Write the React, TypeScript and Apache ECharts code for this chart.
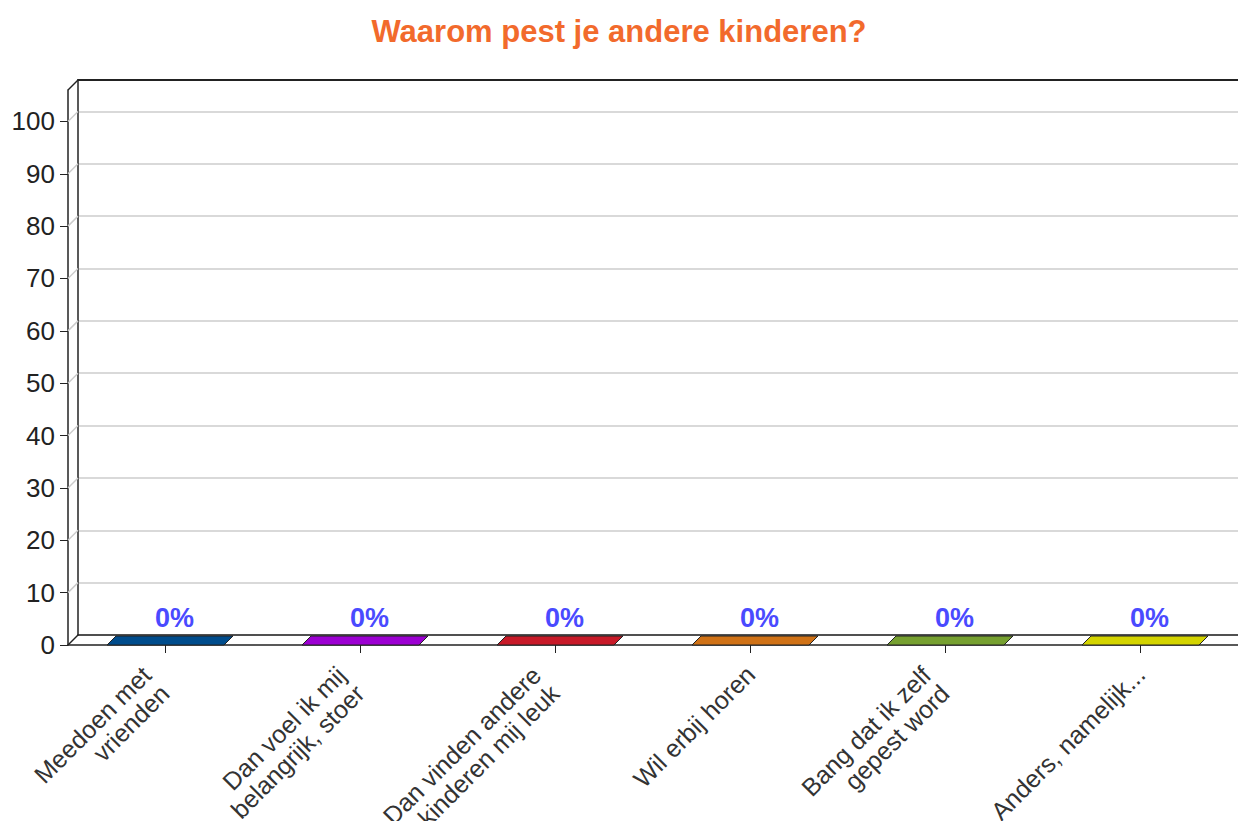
import React, { useEffect, useRef } from "react";
import * as echarts from "echarts";

const title = "Waarom pest je andere kinderen?";
const categories = [
  "Meedoen met\nvrienden",
  "Dan voel ik mij\nbelangrijk, stoer",
  "Dan vinden andere\nkinderen mij leuk",
  "Wil erbij horen",
  "Bang dat ik zelf\ngepest word",
  "Anders, namelijk...",
];
const values = [0, 0, 0, 0, 0, 0];
const barColors = ["#004c8c", "#9c00d2", "#c81a28", "#d07216", "#76a030", "#d4d400"];
const yTicks = [0, 10, 20, 30, 40, 50, 60, 70, 80, 90, 100];
const yMax = 106;

const DEPTH = 10;
const BAR_D = 9;
const FONT = "'Liberation Sans', Arial, sans-serif";

export default function App() {
  const ref = useRef<HTMLDivElement>(null);

  useEffect(() => {
    if (!ref.current) return;
    const chart = echarts.init(ref.current, undefined, { renderer: "svg" });

    const connectorData = yTicks.map((v) => [0, v]).concat([[0, yMax]]);
    const axisData = categories.map((c) =>
      c.indexOf("\n") >= 0 ? { value: c, textStyle: { padding: [0, 14, 0, 0] } } : c
    );

    chart.setOption({
      animation: false,
      backgroundColor: "#ffffff",
      title: {
        text: title,
        left: "center",
        top: 11,
        textStyle: { color: "#f26a2c", fontSize: 31, fontWeight: "bold", fontFamily: FONT },
      },
      grid: [
        { left: 68, right: 0, top: 90, bottom: 176, containLabel: false, outerBoundsMode: "none" },
        {
          left: 68 + DEPTH,
          right: -DEPTH,
          top: 90 - DEPTH,
          bottom: 176 + DEPTH,
          containLabel: false,
          outerBoundsMode: "none",
        },
      ],
      xAxis: [
        {
          type: "category",
          gridIndex: 0,
          data: axisData,
          boundaryGap: true,
          axisLine: { show: true, lineStyle: { color: "#222", width: 1.5 } },
          axisTick: { show: true, alignWithLabel: true, length: 8, lineStyle: { color: "#222" } },
          axisLabel: {
            interval: 0,
            rotate: 45,
            margin: 25,
            fontSize: 25,
            lineHeight: 26,
            color: "#333",
            fontFamily: FONT,
          },
          splitLine: { show: false },
        },
        {
          type: "category",
          gridIndex: 1,
          data: categories,
          position: "bottom",
          axisLine: { show: true, lineStyle: { color: "#222", width: 1.5 } },
          axisTick: { show: false },
          axisLabel: { show: false },
          splitLine: { show: false },
        },
        {
          type: "category",
          gridIndex: 1,
          data: categories,
          position: "top",
          axisLine: { show: true, lineStyle: { color: "#222", width: 2 } },
          axisTick: { show: false },
          axisLabel: { show: false },
          splitLine: { show: false },
        },
      ],
      yAxis: [
        {
          type: "value",
          gridIndex: 0,
          min: 0,
          max: yMax,
          interval: 10,
          axisLine: { show: true, lineStyle: { color: "#222", width: 1.5 } },
          axisTick: { show: true, length: 8, customValues: yTicks, lineStyle: { color: "#222" } },
          axisLabel: {
            customValues: yTicks,
            margin: 13,
            fontSize: 26,
            color: "#222",
            fontFamily: FONT,
          },
          splitLine: { show: false },
        },
        {
          type: "value",
          gridIndex: 1,
          min: 0,
          max: yMax,
          interval: 10,
          axisLine: { show: true, lineStyle: { color: "#222", width: 1.5 } },
          axisTick: { show: false },
          axisLabel: { show: false },
          splitLine: { show: true, lineStyle: { color: "#cccccc", width: 1.5 } },
        },
      ],
      series: [
        {
          type: "custom",
          name: "connectors",
          xAxisIndex: 0,
          yAxisIndex: 0,
          data: connectorData,
          silent: true,
          z: 1,
          renderItem: (params: any, api: any) => {
            const v = api.value(1);
            const p = api.coord([0, v]);
            const x = params.coordSys.x;
            const edge = v === 0 || v === yMax;
            return {
              type: "line",
              shape: { x1: x, y1: p[1], x2: x + DEPTH, y2: p[1] - DEPTH },
              style: { stroke: edge ? "#222" : "#cccccc", lineWidth: 1.5 },
            };
          },
        },
        {
          type: "custom",
          name: "bars",
          xAxisIndex: 0,
          yAxisIndex: 0,
          data: values.map((v, i) => [i, v]),
          z: 5,
          renderItem: (params: any, api: any) => {
            const idx = api.value(0);
            const v = api.value(1);
            const base = api.coord([idx, 0]);
            const top = api.coord([idx, v]);
            const w = api.size([1, 0])[0] * 0.6;
            const x0 = base[0] - w / 2;
            const color = barColors[idx % barColors.length];
            const children: any[] = [];
            if (top[1] < base[1]) {
              children.push({
                type: "rect",
                shape: { x: x0, y: top[1], width: w, height: base[1] - top[1] },
                style: { fill: color, stroke: "#222", lineWidth: 1 },
              });
              children.push({
                type: "polygon",
                shape: {
                  points: [
                    [x0 + w, top[1]],
                    [x0 + w + BAR_D, top[1] - BAR_D],
                    [x0 + w + BAR_D, base[1] - BAR_D],
                    [x0 + w, base[1]],
                  ],
                },
                style: { fill: color, stroke: "#222", lineWidth: 1 },
              });
            }
            children.push({
              type: "polygon",
              shape: {
                points: [
                  [x0, top[1]],
                  [x0 + w, top[1]],
                  [x0 + w + BAR_D, top[1] - BAR_D],
                  [x0 + BAR_D, top[1] - BAR_D],
                ],
              },
              style: { fill: color, stroke: "#222", lineWidth: 1 },
            });
            children.push({
              type: "text",
              style: {
                text: Math.round(v) + "%",
                x: base[0] + BAR_D,
                y: top[1] - BAR_D - 5,
                align: "center",
                verticalAlign: "bottom",
                fill: "#4a4aff",
                fontSize: 27,
                fontWeight: "bold",
                fontFamily: FONT,
              },
            });
            return { type: "group", children };
          },
        },
      ],
    });

    return () => chart.dispose();
  }, []);

  return (
    <div
      ref={ref}
      style={{ position: "fixed", left: 0, top: 0, width: 1238, height: 821 }}
    />
  );
}
